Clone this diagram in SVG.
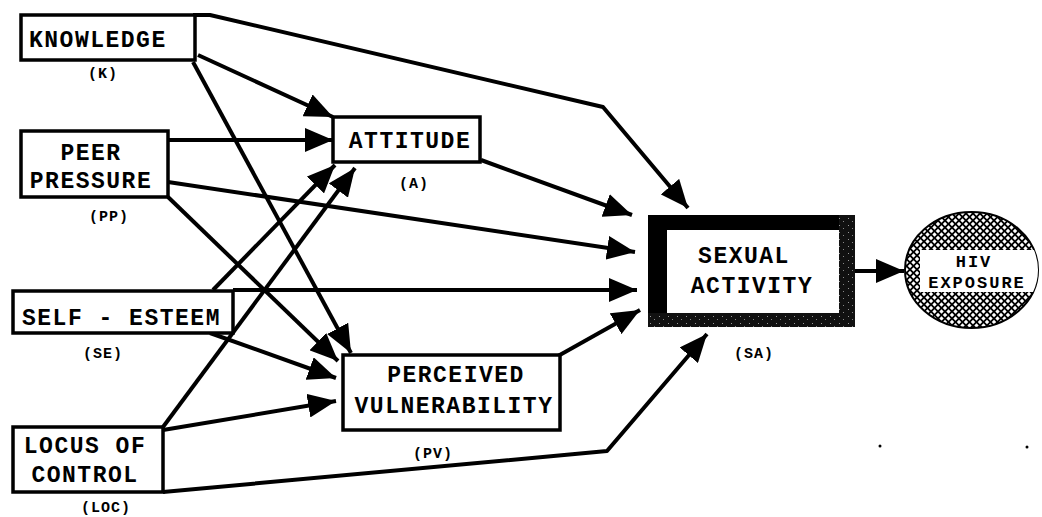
<svg xmlns="http://www.w3.org/2000/svg" width="1042" height="517" viewBox="0 0 1042 517">
<style>
.box{fill:#fff;stroke:#000;stroke-width:3.5}
.t{font-family:"Liberation Mono","Courier New",monospace;font-weight:bold;font-size:23px;letter-spacing:1.5px;fill:#000}
.s{font-family:"Liberation Mono","Courier New",monospace;font-weight:bold;font-size:15px;letter-spacing:1px;fill:#000}
.h{font-family:"Liberation Mono","Courier New",monospace;font-weight:bold;font-size:17px;letter-spacing:2px;fill:#000}
.c{fill:none;stroke:#000;stroke-width:4;stroke-linejoin:round}
.a{marker-end:url(#ah)}
</style>
<defs>
<marker id="ah" markerUnits="userSpaceOnUse" markerWidth="29" markerHeight="24" refX="28" refY="12" orient="auto">
<path d="M0,0 L28,12 L0,24 Z" fill="#000"/>
</marker>
<pattern id="hatch" patternUnits="userSpaceOnUse" width="7" height="7">
<rect width="7" height="7" fill="#000"/>
<path d="M3.5,1.3 L5.7,3.5 L3.5,5.7 L1.3,3.5 Z" fill="#fff"/>
<path d="M0,-2.2 L2.2,0 L0,2.2 L-2.2,0 Z M7,-2.2 L9.2,0 L7,2.2 L4.8,0 Z M0,4.8 L2.2,7 L0,9.2 L-2.2,7 Z M7,4.8 L9.2,7 L7,9.2 L4.8,7 Z" fill="#fff"/>
</pattern>
<pattern id="stip" patternUnits="userSpaceOnUse" width="9" height="7">
<rect width="9" height="7" fill="#111"/>
<rect x="2" y="1" width="1" height="1" fill="#999"/>
<rect x="6" y="4" width="1" height="1" fill="#888"/>
</pattern>
<clipPath id="hc"><ellipse cx="971.5" cy="270" rx="66.5" ry="58"/></clipPath>
</defs>

<g id="connectors">
<polyline class="c a" points="193,15 210,15 603,107 688,208"/>
<line class="c a" x1="198" y1="55" x2="333" y2="117"/>
<line class="c a" x1="193" y1="62" x2="351" y2="353"/>
<line class="c a" x1="168" y1="140" x2="333" y2="140"/>
<line class="c a" x1="168" y1="182" x2="635" y2="252"/>
<line class="c a" x1="168" y1="197" x2="338" y2="361"/>
<line class="c a" x1="213" y1="290" x2="335" y2="165"/>
<line class="c a" x1="163" y1="427" x2="355" y2="168"/>
<line class="c a" x1="233" y1="290" x2="637" y2="290"/>
<line class="c a" x1="210" y1="333" x2="336" y2="378"/>
<line class="c a" x1="163" y1="430" x2="336" y2="401"/>
<polyline class="c a" points="163,492 607,451 707,334"/>
<line class="c a" x1="481" y1="160" x2="632" y2="215"/>
<line class="c a" x1="558" y1="356" x2="640" y2="310"/>
<line class="c a" x1="855" y1="271" x2="904" y2="271"/>
</g>

<g id="K">
<rect class="box" x="21" y="15" width="174" height="45"/>
<text class="t" x="29" y="47">KNOWLEDGE</text>
<text class="s" x="103" y="78" text-anchor="middle">(K)</text>
</g>

<g id="PP">
<rect class="box" x="21" y="131" width="147" height="66"/>
<text class="t" x="91" y="160" text-anchor="middle">PEER</text>
<text class="t" x="91" y="188" text-anchor="middle">PRESSURE</text>
<text class="s" x="109" y="221" text-anchor="middle">(PP)</text>
</g>

<g id="A">
<rect class="box" x="333" y="117" width="147" height="45"/>
<text class="t" x="410" y="148" text-anchor="middle">ATTITUDE</text>
<text class="s" x="414" y="188" text-anchor="middle">(A)</text>
</g>

<g id="SE">
<rect class="box" x="13" y="291" width="220" height="42"/>
<text class="t" x="22" y="325">SELF - ESTEEM</text>
<text class="s" x="103" y="358" text-anchor="middle">(SE)</text>
</g>

<g id="PV">
<rect class="box" x="343" y="355" width="217" height="75"/>
<text class="t" x="456" y="382" text-anchor="middle">PERCEIVED</text>
<text class="t" x="454" y="413" text-anchor="middle">VULNERABILITY</text>
<text class="s" x="433" y="458" text-anchor="middle">(PV)</text>
</g>

<g id="LOC">
<rect class="box" x="13" y="427" width="150" height="65"/>
<text class="t" x="85" y="453" text-anchor="middle">LOCUS OF</text>
<text class="t" x="85" y="482" text-anchor="middle">CONTROL</text>
<text class="s" x="106" y="512" text-anchor="middle">(LOC)</text>
</g>

<g id="SA">
<rect x="648" y="215" width="207" height="112" fill="#000"/>
<rect x="839" y="215" width="16" height="112" fill="url(#stip)"/>
<rect x="648" y="313" width="207" height="14" fill="url(#stip)"/>
<rect x="667" y="230" width="172" height="83" fill="#fff"/>
<text class="t" x="744" y="263" text-anchor="middle">SEXUAL</text>
<text class="t" x="752" y="293" text-anchor="middle">ACTIVITY</text>
<text class="s" x="754" y="358" text-anchor="middle">(SA)</text>
</g>

<g id="HIV">
<ellipse cx="971.5" cy="270" rx="66.5" ry="58" fill="url(#hatch)" stroke="#000" stroke-width="2"/>
<rect x="920" y="250" width="130" height="42" fill="#fff" clip-path="url(#hc)"/>
<text class="h" x="974" y="267" text-anchor="middle">HIV</text>
<text class="h" x="977" y="288" text-anchor="middle">EXPOSURE</text>
</g>

<circle cx="880" cy="446" r="1.5" fill="#000"/>
<circle cx="1027" cy="447" r="1.5" fill="#000"/>
</svg>
